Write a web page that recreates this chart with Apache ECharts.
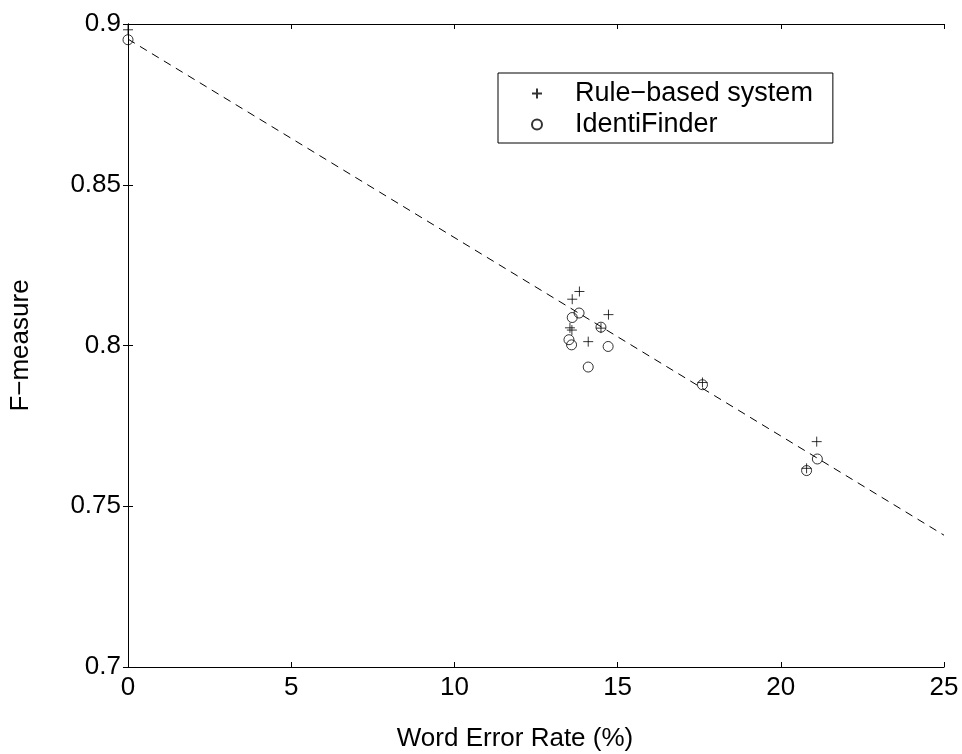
<!DOCTYPE html>
<html>
<head>
<meta charset="utf-8">
<script src="https://cdn.jsdelivr.net/npm/echarts@6/dist/echarts.min.js"></script>
<style>
  html, body { margin: 0; padding: 0; background: #fff; }
  #chart { width: 962px; height: 754px; }
</style>
</head>
<body>
<div id="chart"></div>
<script>
// word error rate (%) per test condition
const werRule = [0, 13.83, 13.61, 14.72, 13.54, 13.60, 14.49, 14.10, 17.60, 21.10, 20.79];
const fRule   = [0.8982, 0.8168, 0.8144, 0.8096, 0.8055, 0.8048, 0.8054, 0.8012, 0.7885, 0.7701, 0.7618];
const werIdf  = [0, 13.82, 13.61, 14.49, 13.51, 13.59, 14.71, 14.10, 17.60, 21.12, 20.79];
const fIdf    = [0.8951, 0.8101, 0.8087, 0.8057, 0.8018, 0.8002, 0.7997, 0.7933, 0.7878, 0.7647, 0.7611];
// fitted trend line (end points)
const fitX = [0, 25];
const fitY = [0.8953, 0.741];

const xTicks = [0, 5, 10, 15, 20, 25];
const yTicks = [0.7, 0.75, 0.8, 0.85, 0.9];

const font = 'Liberation Sans, Arial, sans-serif';
const zip = (a, b) => a.map((v, i) => [v, b[i]]);

const myChart = echarts.init(document.getElementById('chart'));

const baseAxis = {
    axisLine: { show: true, lineStyle: { color: '#000', width: 1 } },
    axisTick: { show: true, inside: true, length: 5, lineStyle: { color: '#000' } },
    splitLine: { show: false }
};

const option = {
    backgroundColor: '#fff',
    animation: false,
    grid: { left: 128, right: 18, top: 24, bottom: 87, outerBoundsMode: 'none', containLabel: false },
    xAxis: [{
        ...baseAxis,
        type: 'value',
        min: xTicks[0],
        max: xTicks[xTicks.length - 1],
        interval: 5,
        name: 'Word Error Rate (%)',
        nameLocation: 'middle',
        nameGap: 59,
        nameTextStyle: { fontFamily: font, fontSize: 26, color: '#000', padding: [0, 42, 0, 0] },
        axisLabel: { margin: 8, fontFamily: font, fontSize: 26, color: '#000' }
    }, {
        ...baseAxis,
        type: 'value',
        position: 'top',
        min: xTicks[0],
        max: xTicks[xTicks.length - 1],
        interval: 5,
        axisLabel: { show: false }
    }],
    yAxis: [{
        ...baseAxis,
        type: 'value',
        min: yTicks[0],
        max: yTicks[yTicks.length - 1],
        interval: 0.05,
        name: 'F\u2212measure',
        nameLocation: 'middle',
        nameGap: 94,
        nameTextStyle: { fontFamily: font, fontSize: 26, color: '#000' },
        axisLabel: { margin: 7, fontFamily: font, fontSize: 26, color: '#000' }
    }, {
        ...baseAxis,
        type: 'value',
        position: 'right',
        min: yTicks[0],
        max: yTicks[yTicks.length - 1],
        interval: 0.05,
        axisLabel: { show: false }
    }],
    legend: {
        data: ['Rule\u2212based system', 'IdentiFinder'],
        orient: 'vertical',
        left: 498,
        top: 73,
        padding: [7, 20, 5, 33],
        itemGap: 4,
        itemWidth: 66,
        itemHeight: 10,
        borderColor: '#000',
        borderWidth: 1,
        backgroundColor: '#fff',
        textStyle: { fontFamily: font, fontSize: 27, color: '#000' }
    },
    series: [{
        name: 'fit',
        type: 'line',
        data: zip(fitX, fitY),
        showSymbol: false,
        symbol: 'none',
        silent: true,
        lineStyle: { color: '#000', width: 1, type: [8, 6] },
        z: 1
    }, {
        name: 'Rule\u2212based system',
        type: 'scatter',
        data: zip(werRule, fRule),
        symbol: 'path://M0,-1L0,1M-1,0L1,0',
        symbolSize: 10,
        itemStyle: { color: 'transparent', borderColor: '#000', borderWidth: 1 },
        z: 3
    }, {
        name: 'IdentiFinder',
        type: 'scatter',
        data: zip(werIdf, fIdf),
        symbol: 'circle',
        symbolSize: 10,
        itemStyle: { color: 'transparent', borderColor: '#000', borderWidth: 1 },
        z: 2
    }]
};

myChart.setOption(option);
</script>
</body>
</html>
